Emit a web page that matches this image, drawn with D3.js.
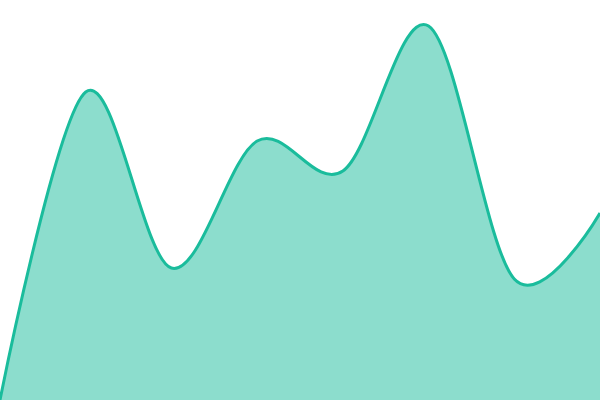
<!DOCTYPE html>
<html>
<head>
<meta charset="utf-8">
<script src="https://cdn.jsdelivr.net/npm/d3@7"></script>
<style>
  html, body { margin: 0; padding: 0; background: #fff; }
  svg { display: block; }
</style>
</head>
<body>
<div class="area_chart"></div>
<script>
var steps = [0, 1, 2, 3, 4, 5, 6, 7];
var values = [0, 308, 132, 259, 229, 374, 121, 187];

var width = 600,
    height = 400;

var svg = d3.select(".area_chart")
  .append("svg")
  .attr("width", width)
  .attr("height", height);

var x = d3.scaleLinear()
  .domain([0, steps.length - 1])
  .range([0, width]);

var y = d3.scaleLinear()
  .domain([0, 400])
  .range([height, 0]);

var curve = d3.curveCardinal;

var area = d3.area()
  .x(function(d, i) { return x(steps[i]); })
  .y0(height)
  .y1(function(d) { return y(d); })
  .curve(curve);

var line = d3.line()
  .x(function(d, i) { return x(steps[i]); })
  .y(function(d) { return y(d); })
  .curve(curve);

svg.append("path")
  .datum(values)
  .attr("d", area)
  .attr("fill", "#1abc9c")
  .attr("fill-opacity", 0.5);

svg.append("path")
  .datum(values)
  .attr("d", line)
  .attr("fill", "none")
  .attr("stroke", "#1abc9c")
  .attr("stroke-width", 3);
</script>
</body>
</html>
